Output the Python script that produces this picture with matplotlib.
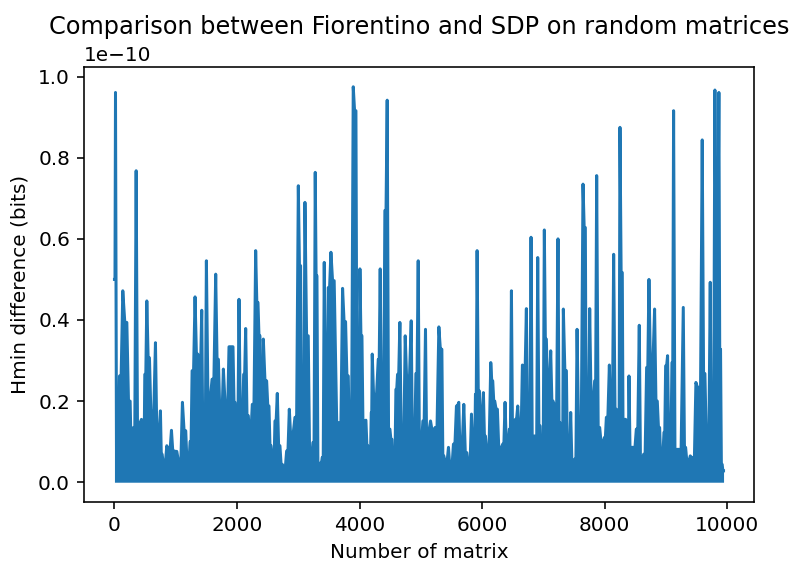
import matplotlib
matplotlib.use("Agg")
import matplotlib.pyplot as plt
import numpy as np

# local maxima of the Hmin difference (units of 1e-10 bits) and the matrix number where they occur
peak_idx = [0, 17, 50, 82, 136, 202, 256, 283, 310, 354, 397, 441, 473, 495, 528, 571, 615, 669, 712,
            750, 778, 810, 854, 886, 930, 973, 1017, 1060, 1109, 1163, 1201, 1234, 1267, 1315, 1359,
            1392, 1424, 1462, 1500, 1549, 1593, 1652, 1696, 1739, 1777, 1831, 1869, 1902, 1934, 1967,
            2000, 2032, 2076, 2108, 2141, 2184, 2211, 2249, 2304, 2342, 2374, 2402, 2429, 2483, 2521,
            2554, 2592, 2619, 2657, 2700, 2738, 2771, 2809, 2853, 2891, 2945, 3000, 3037, 3070, 3108,
            3162, 3206, 3238, 3276, 3304, 3336, 3369, 3390, 3423, 3456, 3488, 3532, 3585, 3668, 3722,
            3771, 3815, 3842, 3896, 3940, 3978, 4005, 4038, 4070, 4103, 4135, 4163, 4190, 4206, 4249,
            4304, 4336, 4374, 4412, 4450, 4494, 4527, 4559, 4592, 4619, 4657, 4700, 4744, 4787, 4842,
            4880, 4918, 4956, 4994, 5032, 5075, 5108, 5157, 5200, 5233, 5293, 5342, 5374, 5407, 5450,
            5488, 5531, 5580, 5618, 5651, 5700, 5749, 5781, 5825, 5868, 5890, 5917, 5955, 5988, 6020,
            6053, 6085, 6140, 6172, 6205, 6248, 6292, 6335, 6373, 6411, 6444, 6477, 6509, 6542, 6580,
            6618, 6656, 6683, 6721, 6759, 6797, 6835, 6873, 6906, 6944, 6976, 7014, 7047, 7080, 7118,
            7156, 7194, 7237, 7270, 7302, 7324, 7374, 7406, 7444, 7482, 7510, 7548, 7591, 7645, 7683,
            7711, 7754, 7797, 7835, 7868, 7917, 7960, 7993, 8026, 8075, 8107, 8145, 8189, 8221, 8248,
            8286, 8308, 8341, 8373, 8395, 8428, 8471, 8515, 8563, 8601, 8634, 8683, 8721, 8764, 8813,
            8857, 8895, 8927, 8966, 8993, 9025, 9063, 9096, 9123, 9167, 9210, 9281, 9319, 9357, 9395,
            9438, 9487, 9536, 9590, 9634, 9677, 9721, 9753, 9797, 9830, 9862, 9889, 9916, 9938]

peak_val = [0.50, 0.961, 0.077, 0.262, 0.472, 0.394, 0.20, 0.10, 0.135, 0.768, 0.147, 0.155, 0.077,
            0.266, 0.447, 0.307, 0.176, 0.344, 0.127, 0.176, 0.069, 0.049, 0.09, 0.081, 0.128, 0.077,
            0.076, 0.057, 0.197, 0.127, 0.053, 0.10, 0.275, 0.457, 0.316, 0.303, 0.424, 0.08, 0.546,
            0.219, 0.254, 0.513, 0.303, 0.18, 0.279, 0.197, 0.334, 0.334, 0.334, 0.197, 0.16, 0.451,
            0.155, 0.266, 0.379, 0.164, 0.131, 0.192, 0.571, 0.443, 0.361, 0.135, 0.353, 0.25, 0.188,
            0.09, 0.061, 0.151, 0.219, 0.09, 0.044, 0.04, 0.077, 0.18, 0.123, 0.16, 0.731, 0.534,
            0.094, 0.69, 0.361, 0.069, 0.098, 0.764, 0.509, 0.032, 0.049, 0.061, 0.542, 0.221, 0.48,
            0.567, 0.497, 0.147, 0.478, 0.396, 0.262, 0.143, 0.975, 0.916, 0.057, 0.526, 0.361, 0.151,
            0.153, 0.09, 0.057, 0.172, 0.316, 0.217, 0.303, 0.526, 0.176, 0.67, 0.942, 0.131, 0.106,
            0.036, 0.229, 0.266, 0.394, 0.11, 0.361, 0.262, 0.398, 0.094, 0.268, 0.546, 0.10, 0.151,
            0.377, 0.127, 0.151, 0.131, 0.135, 0.383, 0.328, 0.065, 0.053, 0.086, 0.044, 0.094, 0.188,
            0.197, 0.094, 0.192, 0.073, 0.049, 0.168, 0.086, 0.217, 0.571, 0.225, 0.155, 0.221, 0.114,
            0.086, 0.295, 0.25, 0.20, 0.18, 0.086, 0.094, 0.197, 0.10, 0.131, 0.472, 0.151, 0.155,
            0.188, 0.135, 0.289, 0.287, 0.428, 0.106, 0.604, 0.114, 0.114, 0.554, 0.139, 0.057, 0.622,
            0.353, 0.246, 0.324, 0.20, 0.192, 0.60, 0.147, 0.061, 0.427, 0.275, 0.061, 0.172, 0.053,
            0.057, 0.377, 0.16, 0.735, 0.628, 0.118, 0.428, 0.209, 0.25, 0.756, 0.135, 0.10, 0.11,
            0.16, 0.289, 0.184, 0.562, 0.18, 0.147, 0.875, 0.517, 0.155, 0.155, 0.053, 0.262, 0.086,
            0.086, 0.131, 0.387, 0.057, 0.069, 0.283, 0.50, 0.307, 0.427, 0.20, 0.135, 0.061, 0.123,
            0.287, 0.312, 0.086, 0.295, 0.916, 0.081, 0.081, 0.431, 0.086, 0.053, 0.065, 0.061, 0.246,
            0.234, 0.844, 0.268, 0.114, 0.493, 0.069, 0.967, 0.571, 0.961, 0.328, 0.044, 0.028]

px = np.asarray(peak_idx, dtype=float)
pv = np.asarray(peak_val) * 1e-10

# thousands of samples swing between ~0 and these maxima: between two maxima the
# plotted line is solid up to the smaller one, so the trace dips only that far
x = np.empty(2 * len(px) - 1)
y = np.empty(2 * len(px) - 1)
x[0::2] = px
y[0::2] = pv
x[1::2] = (px[:-1] + px[1:]) / 2
y[1::2] = np.minimum(pv[:-1], pv[1:])

dpi = 144
fig = plt.figure(figsize=(792 / dpi, 562 / dpi), dpi=dpi)
ax = fig.add_axes([84 / 792, 60 / 562, 670 / 792, 435 / 562])
ax.fill_between(x, 0, y, color="#1f77b4", linewidth=0)
ax.plot(x, y, color="#1f77b4", linewidth=1.5)
ax.set_title("Comparison between Fiorentino and SDP on random matrices")
ax.set_xlabel("Number of matrix")
ax.set_ylabel("Hmin difference (bits)")

fig.savefig("out.png", dpi=dpi)
